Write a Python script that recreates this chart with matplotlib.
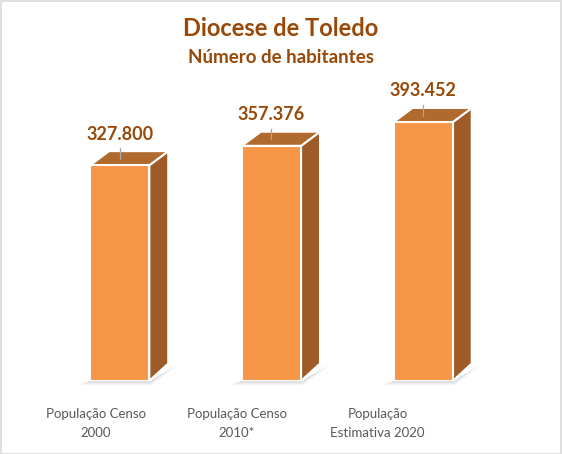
import matplotlib.pyplot as plt
from matplotlib.patches import Polygon, Rectangle

# data
categories = ["População Censo\n2000", "População Censo\n2010*", "População\nEstimativa 2020"]
habitantes = [327800, 357376, 393452]
value_labels = ["327.800", "357.376", "393.452"]

title = "Diocese de Toledo"
subtitle = "Número de habitantes"

# colours
front_color = "#F79646"
side_color = "#9E5B27"
top_color = "#B06A2E"
text_brown = "#984807"
label_gray = "#595959"

plt.rcParams["font.family"] = ["Lato", "DejaVu Sans"]

fig = plt.figure(figsize=(5.62, 4.54), dpi=100)
ax = fig.add_axes([0.078, 0.161, 0.81, 0.652])

x = list(range(len(habitantes)))
bar_w = 0.39
depth_x = 0.125
depth_top = 21500
depth_bottom = 26500
# the floor labels sit a little to the left, 3d perspective
label_shift = -0.155
label_scale = 0.927

ax.set_xlim(-0.5, 2.5)
ax.set_ylim(0, 450000)

for i, v in zip(x, habitantes):
    left = i - bar_w / 2
    right = i + bar_w / 2
    # soft shadow under the bar
    for k, a in enumerate([0.10, 0.08, 0.06]):
        grow = 0.012 * (k + 1)
        sh = Polygon([(left - 0.04 - grow, -3500 - 1500 * k),
                      (right + 0.01, -3500 - 1500 * k),
                      (right + depth_x + 0.03 + grow, depth_bottom - 3000),
                      (right, 0), (left, 0)],
                     closed=True, facecolor="#7f7f7f", edgecolor="none",
                     alpha=a, zorder=1, clip_on=False)
        ax.add_patch(sh)
    # side face
    side = Polygon([(right, 0), (right + depth_x, depth_bottom),
                    (right + depth_x, v + depth_top), (right, v)],
                   closed=True, facecolor=side_color, edgecolor="white",
                   linewidth=1.5, zorder=2, clip_on=False)
    ax.add_patch(side)
    # top face
    top = Polygon([(left, v), (right, v), (right + depth_x, v + depth_top),
                   (left + depth_x, v + depth_top)],
                  closed=True, facecolor=top_color, edgecolor="white",
                  linewidth=1.5, zorder=2, clip_on=False)
    ax.add_patch(top)
    # front face
    ax.bar(i, v, width=bar_w, color=front_color, edgecolor="white",
           linewidth=1.5, zorder=3)
    # leader line and value label
    ax.plot([i, i], [v + depth_top * 0.45, v + depth_top * 1.2],
            color="#a6a6a6", linewidth=0.9, zorder=4, clip_on=False)
    ax.text(i, v + 34500, value_labels[i], ha="center", va="bottom",
            fontsize=13, fontweight="bold", color=text_brown, zorder=5)
    # category label
    ax.text(label_shift + label_scale * i, -40500, categories[i],
            ha="center", va="top", fontsize=9.5, color=label_gray,
            linespacing=1.75, clip_on=False)

ax.set_xticks([])
ax.set_yticks([])
for s in ax.spines.values():
    s.set_visible(False)
ax.patch.set_visible(False)

fig.text(0.5, 0.938, title, ha="center", va="center", fontsize=17,
         fontweight="bold", color=text_brown)
fig.text(0.5, 0.874, subtitle, ha="center", va="center", fontsize=13.5,
         fontweight="bold", color=text_brown)

fig.patches.append(Rectangle((0.001, 0.001), 0.997, 0.997, transform=fig.transFigure,
                             fill=False, edgecolor="#d9d9d9", linewidth=1.2))

fig.savefig("out.png", dpi=100)
